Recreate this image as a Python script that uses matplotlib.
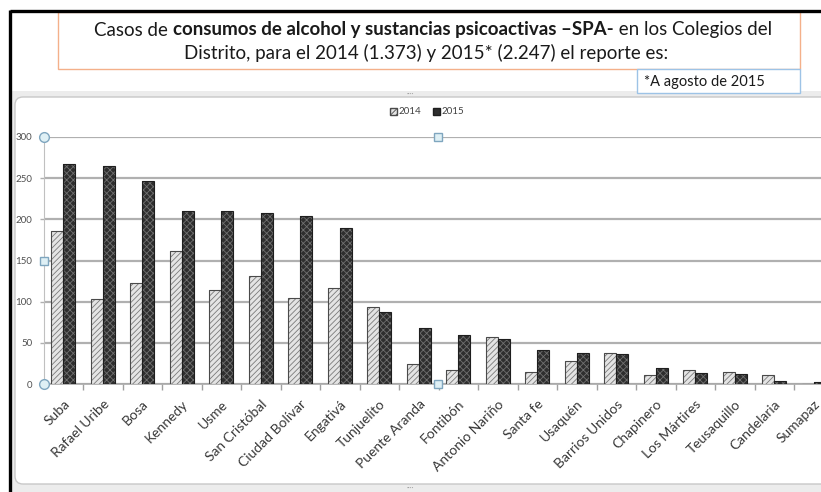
import matplotlib.pyplot as plt
import matplotlib.patches as mpatches
import numpy as np

plt.rcParams['font.family'] = ['Lato', 'DejaVu Sans']
plt.rcParams['hatch.linewidth'] = 0.6

# data
localidades = ['Suba', 'Rafael Uribe', 'Bosa', 'Kennedy', 'Usme', 'San Cristóbal',
               'Ciudad Bolívar', 'Engativá', 'Tunjuelito', 'Puente Aranda', 'Fontibón',
               'Antonio Nariño', 'Santa fe', 'Usaquén', 'Barrios Unidos', 'Chapinero',
               'Los Mártires', 'Teusaquillo', 'Candelaria', 'Sumapaz']
casos_2014 = [186, 103, 123, 161, 114, 131, 105, 116, 93, 24, 17, 57, 14, 28, 38, 11, 17, 14, 11, 0]
casos_2015 = [267, 265, 246, 210, 210, 208, 204, 189, 87, 68, 59, 55, 41, 38, 37, 20, 13, 12, 4, 2]
y_ticks = [0, 50, 100, 150, 200, 250, 300]

W, H = 821, 492
fig = plt.figure(figsize=(W / 100, H / 100), dpi=100)

# background / slide decorations in pixel coords
bg = fig.add_axes([0, 0, 1, 1])
bg.set_xlim(0, W)
bg.set_ylim(H, 0)
bg.axis('off')
bg.add_patch(mpatches.Rectangle((11, 91), W, H, facecolor='#ececec', edgecolor='none'))
bg.add_patch(mpatches.FancyBboxPatch((15, 97), 830, 387, boxstyle='round,pad=0,rounding_size=8',
                                     facecolor='white', edgecolor='#c8c8c8', lw=1))
bg.plot([10, W], [11, 11], color='black', lw=2.4, solid_capstyle='butt')
bg.plot([10, 10], [10, H], color='black', lw=2.4, solid_capstyle='butt')
bg.add_patch(mpatches.Rectangle((58, 12), 742, 57, facecolor='white', edgecolor='#f4b08a', lw=1))
bg.add_patch(mpatches.Rectangle((637, 69), 163, 24, facecolor='white', edgecolor='#9dc3e6', lw=1))
bg.text(644, 82, '*A agosto de 2015', fontsize=10.5, va='center', color='#1a1a1a')
bg.text(410, 94, '····', fontsize=5, ha='center', va='center', color='#a0a0a0')
bg.text(410, 488, '····', fontsize=5, ha='center', va='center', color='#a0a0a0')

# title with bold part
renderer = fig.canvas.get_renderer()


def mixed_line(parts, xc, y, size):
    items = []
    total = 0
    for s, w in parts:
        t = bg.text(0, y, s, fontsize=size, fontweight=w, va='center', color='#1a1a1a')
        wd = t.get_window_extent(renderer=renderer).width
        items.append((t, wd))
        total += wd
    x = xc - total / 2
    for t, wd in items:
        t.set_x(x)
        x += wd


mixed_line([('Casos de ', 'normal'),
            ('consumos de alcohol y sustancias psicoactivas –SPA-', 'bold'),
            (' en los Colegios del', 'normal')], 433, 30, 13.5)
mixed_line([('Distrito, para el 2014 (1.373) y 2015* (2.247) el reporte es:', 'normal')], 426, 53, 13.5)

# chart
ax = fig.add_axes([43.5 / W, 1 - 384 / H, (W - 43.5) / W, 247 / H])
x = np.arange(len(localidades))
bw = 0.3
ax.bar(x - bw / 2, casos_2014, bw, facecolor='#e4e4e4', edgecolor='#7a7a7a', hatch='//////', lw=0, zorder=3)
ax.bar(x - bw / 2, casos_2014, bw, fill=False, edgecolor='#4a4a4a', lw=0.8, zorder=4)
ax.bar(x + bw / 2, casos_2015, bw, facecolor='#2e2e2e', edgecolor='#707070', hatch='xxxxx', lw=0, zorder=3)
ax.bar(x + bw / 2, casos_2015, bw, fill=False, edgecolor='#1e1e1e', lw=0.8, zorder=4)

ax.set_xlim(-0.5, -0.5 + (W - 43.5) / 39.5)
ax.set_ylim(0, 300)
ax.set_yticks(y_ticks)
ax.tick_params(axis='y', length=3, width=1, color='#b0b0b0', pad=5, labelsize=7, labelcolor='#505050')
ax.yaxis.grid(True, color='#b0b0b0', lw=1.6, zorder=1)
ax.set_xticks(x)
ax.set_xticklabels(localidades, rotation=45, ha='right', rotation_mode='anchor',
                   fontsize=10, color='#383838')
ax.tick_params(axis='x', length=0, pad=10)
ax.set_xticks(x[:-1] + 0.5, minor=True)
ax.tick_params(axis='x', which='minor', length=4, color='#a0a0a0', width=1)
for s in ['top', 'right']:
    ax.spines[s].set_visible(False)
ax.spines['left'].set_color('#c0c0c0')
ax.spines['bottom'].set_color('#a8a8a8')
ax.spines['bottom'].set_linewidth(1.2)
ax.patch.set_alpha(0)

# legend
h1 = mpatches.Patch(facecolor='#e4e4e4', edgecolor='#4a4a4a', hatch='//////', label='2014')
h2 = mpatches.Patch(facecolor='#2e2e2e', edgecolor='#1e1e1e', label='2015')
fig.legend(handles=[h1, h2], loc='center', bbox_to_anchor=(427 / W, 1 - 112 / H), ncol=2,
           frameon=False, fontsize=7, handlelength=0.7, handleheight=0.7,
           handletextpad=0.2, columnspacing=1.2, labelcolor='#404040')

# selection handles
ov = fig.add_axes([0, 0, 1, 1])
ov.set_xlim(0, W)
ov.set_ylim(H, 0)
ov.axis('off')
ov.plot([44, 44], [137, 384], 'o', ms=7, mfc='#dff0f5', mec='#7fa6bf', mew=1)
ov.plot([44, 438, 438], [261, 137, 384], 's', ms=6, mfc='#dff0f5', mec='#7fa6bf', mew=1)

fig.savefig('out.png', dpi=100)
